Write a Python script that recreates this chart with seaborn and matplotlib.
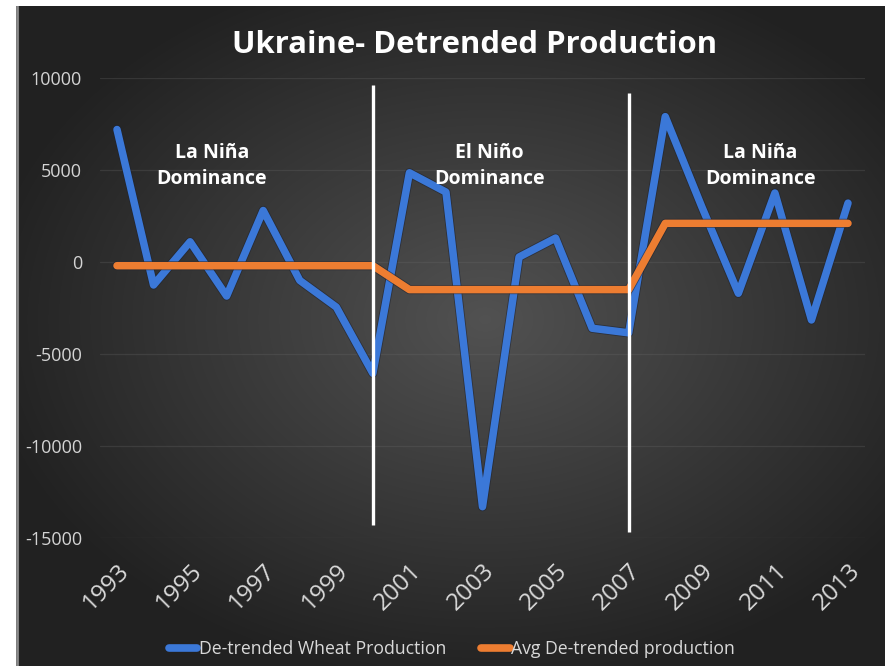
import numpy as np
import pandas as pd
import matplotlib
matplotlib.use("Agg")
import matplotlib.pyplot as plt
import matplotlib.patheffects as pe
import seaborn as sns

# Detrended wheat production, Ukraine
years = list(range(1993, 2014))
wheat_detrended = [7200, -1250, 1100, -1850, 2800, -1000, -2450, -6050,
                   4850, 3800, -13300, 270, 1300, -3600, -3850,
                   7900, 3000, -1700, 3750, -3150, 3200]
avg_detrended = [-200] * 8 + [-1500] * 7 + [2100] * 6
phase_breaks = [2000, 2007]
phase_labels = ["La Niña\nDominance", "El Niño\nDominance", "La Niña\nDominance"]
phase_label_x = [1995.6, 2003.2, 2010.6]
y_ticks = [10000, 5000, 0, -5000, -10000, -15000]
x_ticks = list(range(1993, 2014, 2))

df = pd.DataFrame({
    "Year": years * 2,
    "Value": wheat_detrended + avg_detrended,
    "Series": ["De-trended Wheat Production"] * len(years)
              + ["Avg De-trended production"] * len(years),
})

sns.set_theme(style="dark")
plt.rcParams["font.family"] = ["Open Sans", "DejaVu Sans"]

W, H = 889, 666
fig = plt.figure(figsize=(W / 100, H / 100), dpi=100)
fig.patch.set_facecolor("white")

# dark radial-gradient panel behind the chart
bg = fig.add_axes([16 / W, 0, (885 - 16) / W, (666 - 6) / H])
gx, gy = np.meshgrid(np.linspace(-1, 1, 400), np.linspace(-1, 1, 300))
r = np.sqrt(((gx - 0.08) / 1.05) ** 2 + ((gy + 0.05) / 1.0) ** 2)
shade = np.clip(0.32 - 0.17 * r, 0.13, 0.32)
bg.imshow(np.dstack([shade] * 3), aspect="auto", extent=[0, 1, 0, 1],
          interpolation="bicubic")
bg.axvline(0.001, color="#8a8a8a", lw=2)
bg.set_axis_off()

ax = fig.add_axes([100 / W, 1 - 538 / H, 765 / W, 460 / H])
ax.set_facecolor("none")

palette = {"De-trended Wheat Production": "#3b78d8",
           "Avg De-trended production": "#ed7d31"}
sns.lineplot(data=df, x="Year", y="Value", hue="Series", palette=palette,
             linewidth=5.4, ax=ax, legend=False, zorder=3)
for ln in ax.get_lines():
    ln.set_solid_capstyle("round")
    ln.set_solid_joinstyle("round")
    ln.set_path_effects([pe.Stroke(linewidth=6.6, foreground="#1d2230", alpha=0.6),
                         pe.Normal()])

# phase separators
ax.vlines(phase_breaks[0], -14300, 9600, color="white", lw=2.4, zorder=4)
ax.vlines(phase_breaks[1], -14700, 9200, color="white", lw=2.4, zorder=4)

for xl, txt in zip(phase_label_x, phase_labels):
    ax.text(xl, 5200, txt, ha="center", va="center", color="white",
            fontsize=14, fontweight="bold", linespacing=1.4, zorder=5)

ax.set_xlim(1992.535, 2013.465)
ax.set_ylim(-15000, 10000)
ax.set_yticks(y_ticks)
ax.set_yticklabels([str(v) for v in y_ticks])
ax.set_xticks(x_ticks)
ax.set_xticklabels([str(v) for v in x_ticks], rotation=45, ha="right",
                   rotation_mode="anchor")
ax.tick_params(axis="y", colors="#d4d4d4", labelsize=13, length=0, pad=13)
ax.tick_params(axis="x", colors="#d9d9d9", labelsize=17.5, length=0, pad=15)
ax.grid(axis="y", color="#6a6a6a", alpha=0.28, lw=0.9)
ax.grid(axis="x", visible=False)
ax.set_xlabel("")
ax.set_ylabel("")
for s in ax.spines.values():
    s.set_visible(False)

fig.text(475 / W, 1 - 45 / H, "Ukraine- Detrended Production", ha="center",
         va="center", color="white", fontsize=22.4, fontweight="bold")

handles = [plt.Line2D([], [], color=palette[k], lw=5.5, solid_capstyle="round")
           for k in palette]
fig.legend(handles, list(palette.keys()), loc="center",
           bbox_to_anchor=(452 / W, 1 - 649 / H), ncol=2, frameon=False,
           fontsize=12.7, labelcolor="#d9d9d9", handlelength=1.6,
           handletextpad=0.1, columnspacing=2.0)

fig.savefig("out.png", dpi=100)
